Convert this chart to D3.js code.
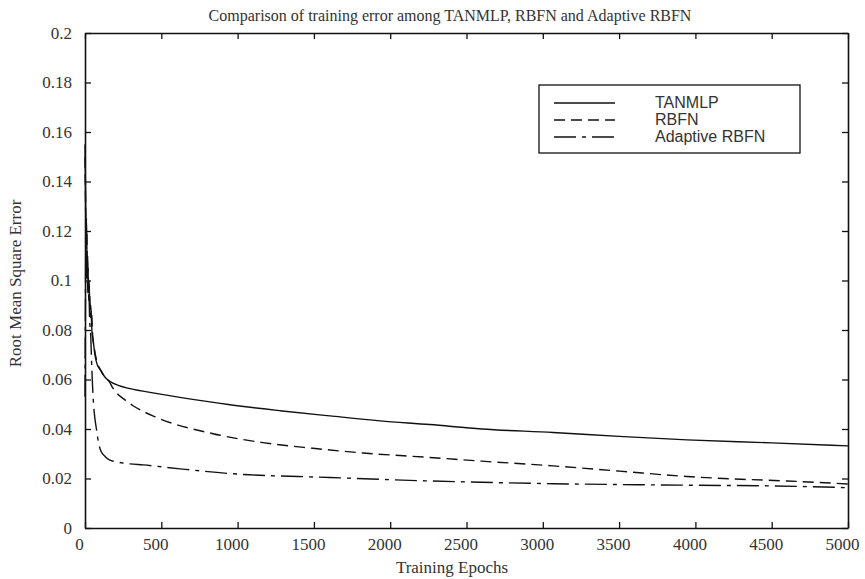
<!DOCTYPE html>
<html>
<head>
<meta charset="utf-8">
<script src="https://cdn.jsdelivr.net/npm/d3@7"></script>
<style>
  body { margin: 0; background: #fff; }
  svg { display: block; }
</style>
</head>
<body>
<div id="chart"></div>
<script>
// values
const seriesNames = ["TANMLP", "RBFN", "Adaptive RBFN"]

const tanEpochs = [0, 3, 6, 10, 14, 18, 22, 27, 32, 38, 45, 55, 65, 80, 105, 130, 157, 223, 295, 465, 622, 950, 1278, 1605, 1933, 2260, 2600, 3067, 3500, 3945, 4500, 5000]
const tanRmse = [0.155, 0.14, 0.12, 0.125, 0.105, 0.11, 0.095, 0.1, 0.088, 0.09, 0.08, 0.075, 0.07, 0.066, 0.0636, 0.061, 0.0595, 0.0575, 0.0563, 0.0544, 0.0528, 0.0498, 0.0474, 0.0453, 0.0433, 0.0418, 0.040, 0.0386, 0.037, 0.0356, 0.0344, 0.0332]

const rbfnEpochs = [0, 4, 8, 12, 16, 20, 25, 30, 36, 42, 50, 60, 75, 100, 130, 160, 183, 269, 315, 465, 839, 1166, 1494, 1822, 2260, 2600, 3067, 3500, 3945, 4300, 4600, 5000]
const rbfnRmse = [0.15, 0.13, 0.115, 0.12, 0.1, 0.105, 0.092, 0.095, 0.085, 0.088, 0.078, 0.073, 0.068, 0.064, 0.061, 0.059, 0.0565, 0.0514, 0.0494, 0.0448, 0.0381, 0.0345, 0.0322, 0.0303, 0.0285, 0.027, 0.0251, 0.023, 0.0208, 0.0197, 0.019, 0.0178]

const adaptEpochs = [0, 3, 6, 10, 14, 18, 24, 30, 38, 45, 52, 60, 75, 90, 105, 130, 160, 200, 295, 380, 622, 950, 1605, 2260, 3067, 3945, 4500, 5000]
const adaptRmse = [0.053, 0.09, 0.12, 0.1, 0.11, 0.095, 0.1, 0.085, 0.077, 0.064, 0.054, 0.047, 0.04, 0.034, 0.031, 0.029, 0.0275, 0.0268, 0.0259, 0.0255, 0.0239, 0.022, 0.0204, 0.019, 0.0179, 0.0173, 0.017, 0.0163]

const xTicks = [0, 500, 1000, 1500, 2000, 2500, 3000, 3500, 4000, 4500, 5000]
const yTicks = [0, 0.02, 0.04, 0.06, 0.08, 0.1, 0.12, 0.14, 0.16, 0.18, 0.2]

const width = 865, height = 579
const margin = { top: 33, right: 17, bottom: 51, left: 85 }
const serif = "'Liberation Serif', 'Times New Roman', serif"
const sans = "'Liberation Sans', Arial, sans-serif"

const dashes = ["none", "11,6", "22,6,4,6"]

const x = d3.scaleLinear().domain([0, 5000]).range([margin.left, width - margin.right])
const y = d3.scaleLinear().domain([0, 0.2]).range([height - margin.bottom, margin.top])

const svg = d3.select("#chart").append("svg")
    .attr("width", width)
    .attr("height", height)

// curves
const line = d3.line()
    .curve(d3.curveMonotoneX)
    .x(d => x(d[0]))
    .y(d => y(d[1]))

const series = [
    d3.zip(tanEpochs, tanRmse),
    d3.zip(rbfnEpochs, rbfnRmse),
    d3.zip(adaptEpochs, adaptRmse)
]

svg.append("g")
    .selectAll("path")
    .data(series)
    .join("path")
    .attr("d", line)
    .attr("fill", "none")
    .attr("stroke", "#111")
    .attr("stroke-width", 1.4)
    .attr("stroke-dasharray", (d, i) => dashes[i])

// axes: box with inward ticks on all sides
const tickLen = 6
const axisColor = "#111"

const xAxis = g => g
    .attr("transform", `translate(0,${y(0)})`)
    .call(d3.axisBottom(x).tickValues(xTicks).tickSizeInner(-tickLen).tickSizeOuter(0).tickPadding(10)
        .tickFormat(d3.format("d")))
    .call(g => g.selectAll("text").attr("dx", -6))

const yAxis = g => g
    .attr("transform", `translate(${x(0)},0)`)
    .call(d3.axisLeft(y).tickValues(yTicks).tickSizeInner(-tickLen).tickSizeOuter(0).tickPadding(13)
        .tickFormat(d => d === 0 ? "0" : d3.format("~g")(d)))

const xTop = g => g
    .attr("transform", `translate(0,${y(0.2)})`)
    .call(d3.axisTop(x).tickValues(xTicks).tickSizeInner(-tickLen).tickSizeOuter(0).tickFormat(""))

const yRight = g => g
    .attr("transform", `translate(${x(5000)},0)`)
    .call(d3.axisRight(y).tickValues(yTicks).tickSizeInner(-tickLen).tickSizeOuter(0).tickFormat(""))

for (const ax of [xAxis, yAxis, xTop, yRight]) {
    svg.append("g")
        .call(ax)
        .attr("font-family", serif)
        .attr("font-size", 17)
        .call(g => g.select(".domain").attr("stroke", axisColor).attr("stroke-width", 1.6))
        .call(g => g.selectAll(".tick line").attr("stroke", axisColor).attr("stroke-width", 1.3))
        .call(g => g.selectAll("text")
            .style("font-family", serif)
            .attr("font-size", 17)
            .attr("fill", "#333"))
}

// axis titles
svg.append("text")
    .attr("x", 452)
    .attr("y", 573)
    .attr("text-anchor", "middle")
    .attr("font-family", serif)
    .attr("font-size", 17)
    .attr("fill", "#333")
    .text("Training Epochs")

svg.append("text")
    .attr("transform", `translate(21,${(y(0) + y(0.2)) / 2 + 3}) rotate(-90)`)
    .attr("text-anchor", "middle")
    .attr("font-family", serif)
    .attr("font-size", 17)
    .attr("fill", "#333")
    .text("Root Mean Square Error")

svg.append("text")
    .attr("x", 450)
    .attr("y", 21)
    .attr("text-anchor", "middle")
    .attr("font-family", serif)
    .attr("font-size", 16)
    .attr("fill", "#333")
    .text("Comparison of training error among TANMLP, RBFN and Adaptive RBFN")

// legend
const legend = svg.append("g")

legend.append("rect")
    .attr("x", 539)
    .attr("y", 85)
    .attr("width", 261)
    .attr("height", 68)
    .attr("fill", "#fff")
    .attr("stroke", axisColor)
    .attr("stroke-width", 1.3)

const rows = legend.selectAll("g.row")
    .data(seriesNames)
    .join("g")
    .attr("class", "row")
    .attr("transform", (d, i) => `translate(0,${108 + i * 17})`)

rows.append("line")
    .attr("x1", 554)
    .attr("x2", 615)
    .attr("y1", -5)
    .attr("y2", -5)
    .attr("stroke", "#111")
    .attr("stroke-width", 1.4)
    .attr("stroke-dasharray", (d, i) => dashes[i])

rows.append("text")
    .attr("x", 655)
    .attr("font-family", sans)
    .attr("font-size", 16)
    .attr("fill", "#333")
    .text(d => d)
</script>
</body>
</html>
